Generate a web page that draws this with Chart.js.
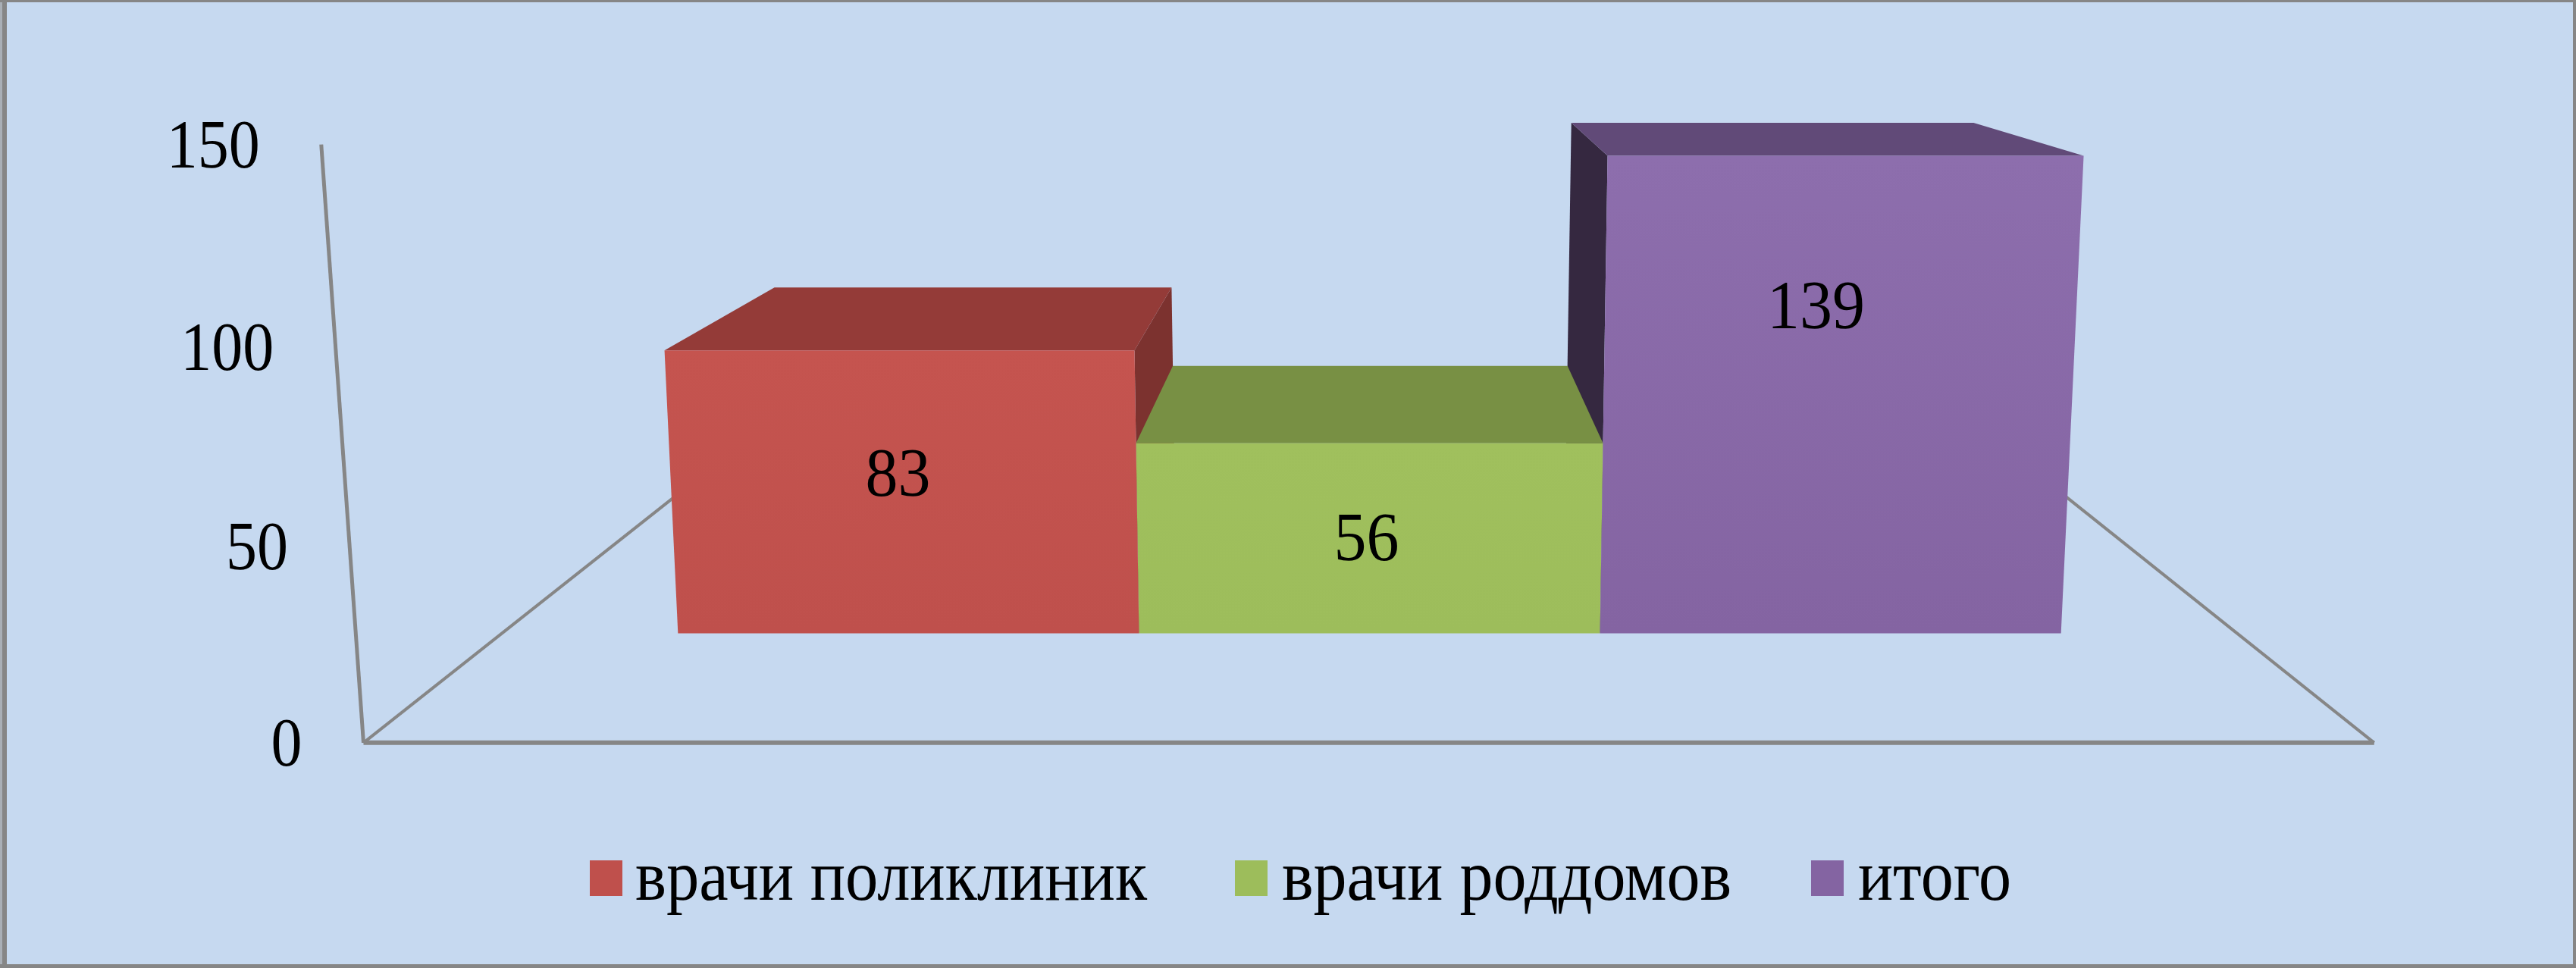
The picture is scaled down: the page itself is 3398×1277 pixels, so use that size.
<!DOCTYPE html>
<html>
<head>
<meta charset="utf-8">
<style>
    html, body { margin: 0; padding: 0; background: #c6d9f0; overflow: hidden; }
    canvas { display: block; }
</style>
<script src="https://cdn.jsdelivr.net/npm/chart.js@4"></script>
</head>
<body>
<canvas id="myChart" width="3398" height="1277"></canvas>
<script>
const categories = ['2012'];
const seriesNames = ['врачи поликлиник', 'врачи роддомов', 'итого'];
const seriesValues = [83, 56, 139];
const tickValues = [0, 50, 100, 150];

const frontTop = ['#c5544f', '#a0c05d', '#8d6ead'];
const frontBottom = ['#bf504c', '#9dbd5b', '#8464a2'];
const topColors = ['#943b38', '#789044', '#614a78'];
const sideColors = ['#7c322f', '#5f7236', '#352840'];

const FONT = '"Liberation Serif", "Times New Roman", serif';
const AXIS_COLOR = '#868686';

// the vanishing point and the depth of the bars
const VP = { x: 1812, y: -74 };
const BAR_DEPTH = 0.155;
const WALL_SCALE = 1.1587;
const WALL_LEAN = 0.0135;
const FLOOR_DEPTH = 0.33;
const CENTER_X = 1805;
const BASE_Y = 835.5;

// flat chart pixel -> screen pixel, the slight tilt of the front plane
const lift = (x, y) => {
    const h = BASE_Y - y;
    return { x: CENTER_X + (x - CENTER_X) * (1 + 5.3e-5 * h), y: BASE_Y - h * (1 + 3.4e-5 * h) };
};
const toBack = (p, t) => ({ x: p.x + t * (VP.x - p.x), y: p.y + t * (VP.y - p.y) });
const toWall = (p) => ({ x: VP.x + (p.x - VP.x) * WALL_SCALE, y: VP.y + (p.y - VP.y) * WALL_SCALE });
const wallPoint = (x, y) => {
    const p = toWall(lift(x, y));
    return { x: p.x - (BASE_Y - y) * WALL_LEAN, y: p.y };
};

const poly = (ctx, pts, fill) => {
    ctx.beginPath();
    pts.forEach((p, i) => (i === 0 ? ctx.moveTo(p.x, p.y) : ctx.lineTo(p.x, p.y)));
    ctx.closePath();
    ctx.fillStyle = fill;
    ctx.fill();
};
const line = (ctx, a, b, w) => {
    ctx.beginPath();
    ctx.moveTo(a.x, a.y);
    ctx.lineTo(b.x, b.y);
    ctx.lineWidth = w;
    ctx.strokeStyle = AXIS_COLOR;
    ctx.stroke();
};

const box3d = {
    id: 'box3d',
    beforeDraw(chart) {
        const ctx = chart.ctx;
        ctx.save();
        ctx.fillStyle = '#c6d9f0';
        ctx.fillRect(0, 0, 3398, 1277);
        ctx.fillStyle = '#a9afb6';
        ctx.fillRect(0, 0, 3, 1277);
        ctx.fillStyle = AXIS_COLOR;
        ctx.fillRect(3, 0, 6, 1277);
        ctx.fillRect(0, 0, 3398, 3);
        ctx.fillRect(3394, 0, 4, 1277);
        ctx.fillRect(0, 1272, 3398, 5);
        ctx.restore();
    },
    beforeDatasetsDraw(chart) {
        const ctx = chart.ctx;
        const area = chart.chartArea;
        const y = chart.scales.y;
        ctx.save();

        // wall and floor
        const left0 = wallPoint(area.left, y.getPixelForValue(0));
        const right0 = wallPoint(area.right, y.getPixelForValue(0));
        const leftTop = wallPoint(area.left, y.getPixelForValue(150));
        line(ctx, left0, leftTop, 5);
        line(ctx, left0, toBack(left0, FLOOR_DEPTH), 4);
        line(ctx, right0, toBack(right0, FLOOR_DEPTH), 4);
        line(ctx, left0, right0, 6);

        const boxes = chart.data.datasets.map((ds, i) => {
            const bar = chart.getDatasetMeta(i).data[0];
            const l = bar.x - bar.width / 2;
            const r = bar.x + bar.width / 2;
            const tl = lift(l, bar.y), tr = lift(r, bar.y), bl = lift(l, bar.base), br = lift(r, bar.base);
            return { i, tl, tr, bl, br };
        });

        // sides first, the neighbours then paint over what is hidden
        boxes.forEach((b) => {
            if (b.tr.x < VP.x) {
                poly(ctx, [b.tr, toBack(b.tr, BAR_DEPTH), toBack(b.br, BAR_DEPTH), b.br], sideColors[b.i]);
            } else if (b.tl.x > VP.x) {
                poly(ctx, [b.tl, toBack(b.tl, BAR_DEPTH), toBack(b.bl, BAR_DEPTH), b.bl], sideColors[b.i]);
            }
        });
        [1, 0, 2].forEach((i) => {
            const b = boxes[i];
            poly(ctx, [b.tl, b.tr, toBack(b.tr, BAR_DEPTH), toBack(b.tl, BAR_DEPTH)], topColors[i]);
            const g = ctx.createLinearGradient(0, b.tl.y, 0, b.bl.y);
            g.addColorStop(0, frontTop[i]);
            g.addColorStop(1, frontBottom[i]);
            poly(ctx, [b.tl, b.tr, b.br, b.bl], g);
        });
        ctx.restore();
        return false;
    },
    afterDraw(chart) {
        const ctx = chart.ctx;
        const area = chart.chartArea;
        const y = chart.scales.y;
        ctx.save();
        ctx.fillStyle = '#000000';
        ctx.textBaseline = 'middle';

        // tick labels follow the slanted wall
        ctx.font = `92px ${FONT}`;
        ctx.textAlign = 'right';
        y.ticks.forEach((t) => {
            const p = wallPoint(area.left, y.getPixelForValue(t.value));
            const s = String(t.value);
            ctx.fillText(s, p.x - 81, p.y + 6, s.length * 41);
        });

        // value labels
        const labelFrac = [0.568, 0.505, 0.686];
        const labelDx = [-14, -4, -19];
        ctx.textAlign = 'center';
        chart.data.datasets.forEach((ds, i) => {
            const bar = chart.getDatasetMeta(i).data[0];
            const top = lift(bar.x, bar.y);
            const ly = BASE_Y - (BASE_Y - top.y) * labelFrac[i];
            const s = String(ds.data[0]);
            ctx.fillText(s, bar.x + labelDx[i], ly + 6, s.length * 43);
        });

        // legend
        const boxX = [778, 1629, 2389];
        const textX = [838, 1691, 2451];
        const textW = [675, 593, 202];
        ctx.textAlign = 'left';
        ctx.font = `96px ${FONT}`;
        chart.data.datasets.forEach((ds, i) => {
            ctx.fillStyle = ds.backgroundColor;
            ctx.fillRect(boxX[i], 1135, 43, 47);
            ctx.fillStyle = '#000000';
            ctx.fillText(ds.label, textX[i], 1162, textW[i]);
        });
        ctx.restore();
    }
};

const ctx = document.getElementById('myChart').getContext('2d');
new Chart(ctx, {
    type: 'bar',
    data: {
        labels: categories,
        datasets: seriesNames.map((name, i) => ({
            label: name,
            data: [seriesValues[i]],
            backgroundColor: frontBottom[i],
            categoryPercentage: 0.797,
            barPercentage: 1
        }))
    },
    options: {
        responsive: false,
        animation: false,
        devicePixelRatio: 1,
        layout: { padding: { left: 662, right: 447, top: 169.5, bottom: 441.5 } },
        plugins: { legend: { display: false }, tooltip: { enabled: false } },
        scales: {
            x: { display: false },
            y: {
                display: false,
                min: tickValues[0],
                max: tickValues[tickValues.length - 1],
                ticks: { stepSize: 50 }
            }
        }
    },
    plugins: [box3d]
});
</script>
</body>
</html>
